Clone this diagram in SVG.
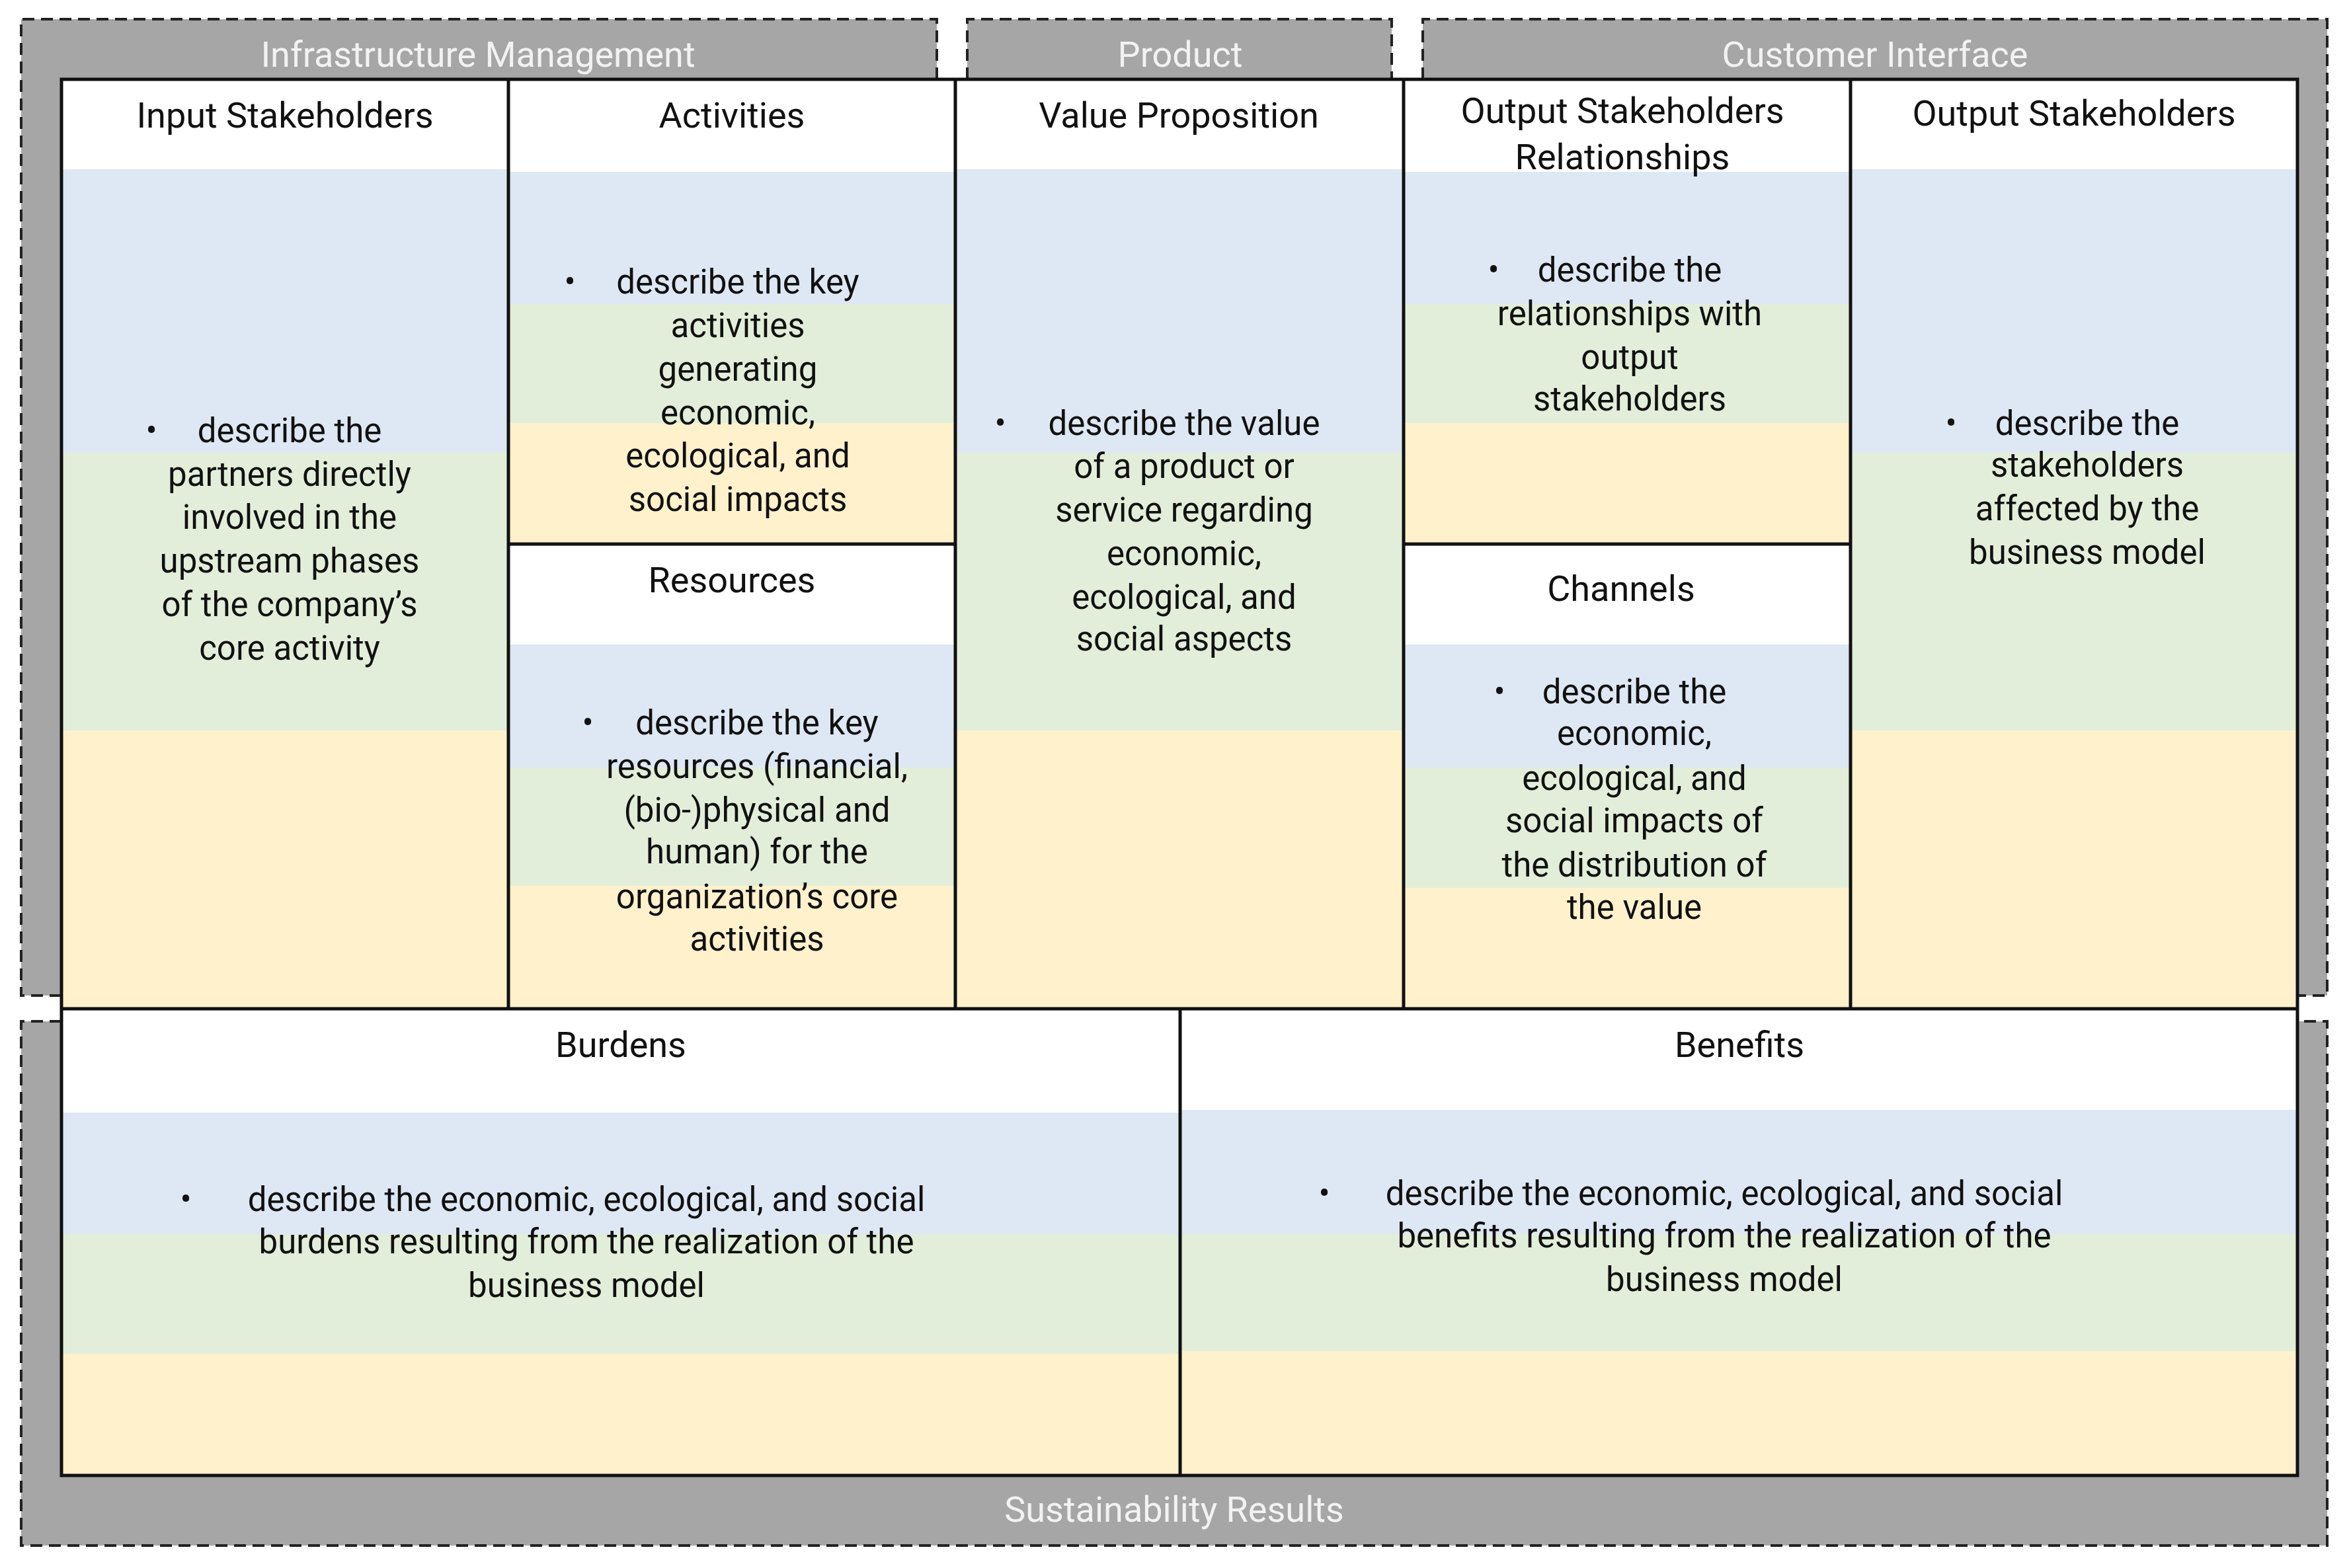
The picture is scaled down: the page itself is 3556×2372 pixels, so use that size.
<svg xmlns="http://www.w3.org/2000/svg" width="3556" height="2372" viewBox="0 0 3556 2372">
<style>
.g{fill:#a6a6a6}
.d{fill:none;stroke:#222;stroke-width:4;stroke-dasharray:18,10}
.w{fill:#fff}.b{fill:#dee8f4}.n{fill:#e2eed9}.y{fill:#fff1cc}
.ln{stroke:#111;stroke-width:5;fill:none}
.t{font-family:Roboto,"Liberation Sans",sans-serif;font-size:54px;fill:#f2f2f2;text-anchor:middle}
.h{font-family:Roboto,"Liberation Sans",sans-serif;font-size:54px;fill:#111;text-anchor:middle}
.x{font-family:Roboto,"Liberation Sans",sans-serif;font-size:51px;fill:#111;text-anchor:middle}
</style>
<rect width="3556" height="2372" fill="#fff"/>
<g id="areas">
<rect class="g" x="32" y="29" width="1385" height="95"/>
<rect class="g" x="1463" y="29" width="642" height="95"/>
<rect class="g" x="2152" y="29" width="1368" height="95"/>
<rect class="g" x="32" y="29" width="61" height="1477"/>
<rect class="g" x="3475" y="29" width="45" height="1477"/>
<rect class="g" x="32" y="1545" width="3488" height="793"/>
<path class="d" d="M93,1506 H32 V29 H1417 V120"/>
<path class="d" d="M1463,120 V29 H2105 V120"/>
<path class="d" d="M2152,120 V29 H3520 V1506 H3475"/>
<path class="d" d="M93,1545 H32 V2338 H3520 V1545 H3475"/>
<text class="t" x="723" y="101">Infrastructure Management</text>
<text class="t" x="1785" y="101">Product</text>
<text class="t" x="2836" y="101">Customer Interface</text>
<text class="t" x="1776" y="2302">Sustainability Results</text>
</g>
<g id="input-stakeholders">
<rect class="w" x="93" y="120" width="676" height="136"/>
<rect class="b" x="93" y="256" width="676" height="429"/>
<rect class="n" x="93" y="685" width="676" height="420"/>
<rect class="y" x="93" y="1105" width="676" height="421"/>
<text class="h" x="431" y="193">Input Stakeholders</text>
<text class="x" x="229" y="669">•</text>
<text class="x" x="438" y="669">describe the</text>
<text class="x" x="438" y="735">partners directly</text>
<text class="x" x="438" y="800">involved in the</text>
<text class="x" x="438" y="866">upstream phases</text>
<text class="x" x="438" y="932">of the company’s</text>
<text class="x" x="438" y="998">core activity</text>
</g>
<g id="activities">
<rect class="w" x="769" y="120" width="676" height="140"/>
<rect class="b" x="769" y="260" width="676" height="200"/>
<rect class="n" x="769" y="460" width="676" height="180"/>
<rect class="y" x="769" y="640" width="676" height="183"/>
<text class="h" x="1107" y="193">Activities</text>
<text class="x" x="862" y="444">•</text>
<text class="x" x="1116" y="444">describe the key</text>
<text class="x" x="1116" y="510">activities</text>
<text class="x" x="1116" y="576">generating</text>
<text class="x" x="1116" y="642">economic,</text>
<text class="x" x="1116" y="707">ecological, and</text>
<text class="x" x="1116" y="773">social impacts</text>
</g>
<g id="resources">
<rect class="w" x="769" y="823" width="676" height="152"/>
<rect class="b" x="769" y="975" width="676" height="186"/>
<rect class="n" x="769" y="1161" width="676" height="179"/>
<rect class="y" x="769" y="1340" width="676" height="186"/>
<rect class="w" x="769" y="823" width="676" height="0"/>
<text class="h" x="1107" y="896">Resources</text>
<text class="x" x="889" y="1111">•</text>
<text class="x" x="1145" y="1111">describe the key</text>
<text class="x" x="1145" y="1177">resources (financial,</text>
<text class="x" x="1145" y="1243">(bio-)physical and</text>
<text class="x" x="1145" y="1306">human) for the</text>
<text class="x" x="1145" y="1374">organization’s core</text>
<text class="x" x="1145" y="1438">activities</text>
</g>
<g id="value-proposition">
<rect class="w" x="1445" y="120" width="678" height="136"/>
<rect class="b" x="1445" y="256" width="678" height="429"/>
<rect class="n" x="1445" y="685" width="678" height="420"/>
<rect class="y" x="1445" y="1105" width="678" height="421"/>
<text class="h" x="1783" y="193">Value Proposition</text>
<text class="x" x="1513" y="658">•</text>
<text class="x" x="1791" y="658">describe the value</text>
<text class="x" x="1791" y="723">of a product or</text>
<text class="x" x="1791" y="789">service regarding</text>
<text class="x" x="1791" y="855">economic,</text>
<text class="x" x="1791" y="921">ecological, and</text>
<text class="x" x="1791" y="984">social aspects</text>
</g>
<g id="output-relationships">
<rect class="w" x="2123" y="120" width="676" height="140"/>
<rect class="b" x="2123" y="260" width="676" height="200"/>
<rect class="n" x="2123" y="460" width="676" height="180"/>
<rect class="y" x="2123" y="640" width="676" height="183"/>
<text class="h" x="2454" y="186">Output Stakeholders</text>
<text class="h" x="2454" y="256">Relationships</text>
<text class="x" x="2259" y="426">•</text>
<text class="x" x="2465" y="426">describe the</text>
<text class="x" x="2465" y="492">relationships with</text>
<text class="x" x="2465" y="558">output</text>
<text class="x" x="2465" y="621">stakeholders</text>
</g>
<g id="channels">
<rect class="w" x="2123" y="823" width="676" height="152"/>
<rect class="b" x="2123" y="975" width="676" height="186"/>
<rect class="n" x="2123" y="1161" width="676" height="182"/>
<rect class="y" x="2123" y="1343" width="676" height="183"/>
<text class="h" x="2452" y="909">Channels</text>
<text class="x" x="2268" y="1064">•</text>
<text class="x" x="2472" y="1064">describe the</text>
<text class="x" x="2472" y="1127">economic,</text>
<text class="x" x="2472" y="1195">ecological, and</text>
<text class="x" x="2472" y="1259">social impacts of</text>
<text class="x" x="2472" y="1326">the distribution of</text>
<text class="x" x="2472" y="1390">the value</text>
</g>
<g id="output-stakeholders">
<rect class="w" x="2799" y="120" width="676" height="136"/>
<rect class="b" x="2799" y="256" width="676" height="429"/>
<rect class="n" x="2799" y="685" width="676" height="420"/>
<rect class="y" x="2799" y="1105" width="676" height="421"/>
<text class="h" x="3137" y="190">Output Stakeholders</text>
<text class="x" x="2951" y="658">•</text>
<text class="x" x="3157" y="658">describe the</text>
<text class="x" x="3157" y="721">stakeholders</text>
<text class="x" x="3157" y="787">affected by the</text>
<text class="x" x="3157" y="853">business model</text>
</g>
<g id="burdens">
<rect class="w" x="93" y="1526" width="1692" height="157"/>
<rect class="b" x="93" y="1683" width="1692" height="184"/>
<rect class="n" x="93" y="1867" width="1692" height="181"/>
<rect class="y" x="93" y="2048" width="1692" height="184"/>
<text class="h" x="939" y="1599">Burdens</text>
<text class="x" x="281" y="1832">•</text>
<text class="x" x="887" y="1832">describe the economic, ecological, and social</text>
<text class="x" x="887" y="1896">burdens resulting from the realization of the</text>
<text class="x" x="887" y="1962">business model</text>
</g>
<g id="benefits">
<rect class="w" x="1785" y="1526" width="1690" height="153"/>
<rect class="b" x="1785" y="1679" width="1690" height="188"/>
<rect class="n" x="1785" y="1867" width="1690" height="177"/>
<rect class="y" x="1785" y="2044" width="1690" height="188"/>
<text class="h" x="2631" y="1599">Benefits</text>
<text class="x" x="2003" y="1823">•</text>
<text class="x" x="2608" y="1823">describe the economic, ecological, and social</text>
<text class="x" x="2608" y="1887">benefits resulting from the realization of the</text>
<text class="x" x="2608" y="1953">business model</text>
</g>
<g id="connectors">
<rect class="ln" x="93" y="120" width="3382" height="2112"/>
<path class="ln" d="M769,120 V1526 M1445,120 V1526 M2123,120 V1526 M2799,120 V1526 M93,1526 H3475 M769,823 H1445 M2123,823 H2799 M1785,1526 V2232"/>
</g>
</svg>
